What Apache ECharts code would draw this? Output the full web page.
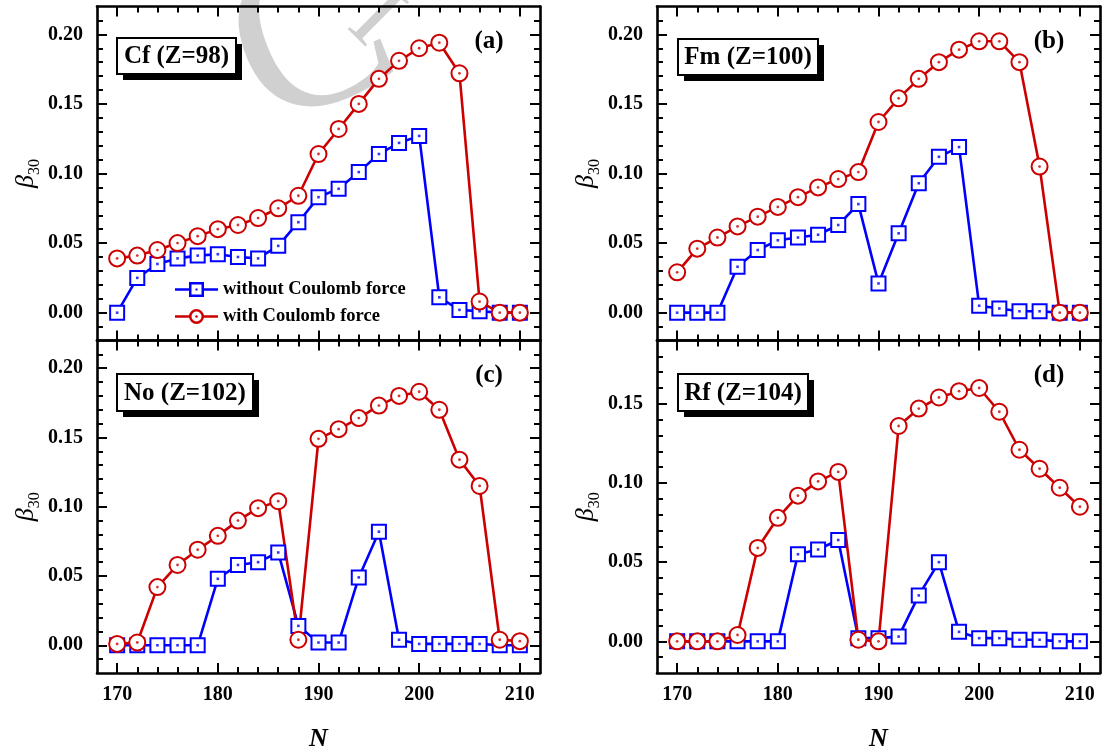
<!DOCTYPE html>
<html>
<head>
<meta charset="utf-8">
<script src="https://cdn.jsdelivr.net/npm/echarts@6/dist/echarts.min.js"></script>
<style>
  html, body { margin: 0; padding: 0; background: #ffffff; }
  #chart { width: 1106px; height: 753px; }
</style>
</head>
<body>
<div id="chart"></div>
<script>
// Neutron numbers N (x values shared by every panel)
const neutronNumbers = [170, 172, 174, 176, 178, 180, 182, 184, 186, 188, 190,
                        192, 194, 196, 198, 200, 202, 204, 206, 208, 210];

// Octupole deformation beta_30, without / with the Coulomb force
const cfWithout = [0.000, 0.025, 0.035, 0.039, 0.041, 0.042, 0.040, 0.039, 0.048, 0.065, 0.083,
                   0.089, 0.101, 0.114, 0.122, 0.127, 0.011, 0.002, 0.001, 0.000, 0.000];
const cfWith    = [0.039, 0.041, 0.045, 0.050, 0.055, 0.060, 0.063, 0.068, 0.075, 0.084, 0.114,
                   0.132, 0.150, 0.168, 0.181, 0.190, 0.194, 0.172, 0.008, 0.000, 0.000];

const fmWithout = [0.000, 0.000, 0.000, 0.033, 0.045, 0.052, 0.054, 0.056, 0.063, 0.078, 0.021,
                   0.057, 0.093, 0.112, 0.119, 0.005, 0.003, 0.001, 0.001, 0.000, 0.000];
const fmWith    = [0.029, 0.046, 0.054, 0.062, 0.069, 0.076, 0.083, 0.090, 0.096, 0.101, 0.137,
                   0.154, 0.168, 0.180, 0.189, 0.195, 0.195, 0.180, 0.105, 0.000, 0.000];

const noWithout = [0.000, 0.000, 0.000, 0.000, 0.000, 0.048, 0.058, 0.060, 0.067, 0.014, 0.002,
                   0.002, 0.049, 0.082, 0.004, 0.001, 0.001, 0.001, 0.001, 0.000, 0.000];
const noWith    = [0.001, 0.002, 0.042, 0.058, 0.069, 0.079, 0.090, 0.099, 0.104, 0.004, 0.149,
                   0.156, 0.164, 0.173, 0.180, 0.183, 0.170, 0.134, 0.115, 0.004, 0.003];

const rfWithout = [0.000, 0.000, 0.000, 0.000, 0.000, 0.000, 0.055, 0.058, 0.064, 0.002, 0.002,
                   0.003, 0.029, 0.050, 0.006, 0.002, 0.002, 0.001, 0.001, 0.000, 0.000];
const rfWith    = [0.000, 0.000, 0.000, 0.004, 0.059, 0.078, 0.092, 0.101, 0.107, 0.001, 0.000,
                   0.136, 0.147, 0.154, 0.158, 0.160, 0.145, 0.121, 0.109, 0.097, 0.085];

// Panel names and nucleus labels
const panelTags = ['(a)', '(b)', '(c)', '(d)'];
const nucleusLabels = ['Cf (Z=98)', 'Fm (Z=100)', 'No (Z=102)', 'Rf (Z=104)'];
const seriesNames = ['without Coulomb force', 'with Coulomb force'];

// Tick values
const xMajorTicks = [170, 180, 190, 200, 210];
const xMinorTicks = [172, 174, 176, 178, 182, 184, 186, 188, 192, 194, 196, 198, 202, 204, 206, 208];
const yMajorTicksWide = [0.00, 0.05, 0.10, 0.15, 0.20];
const yMinorTicksWide = [-0.01, 0.01, 0.02, 0.03, 0.04, 0.06, 0.07, 0.08, 0.09, 0.11, 0.12, 0.13, 0.14,
                         0.16, 0.17, 0.18, 0.19, 0.21];
const yMajorTicksRf = [0.00, 0.05, 0.10, 0.15];
const yMinorTicksRf = [-0.01, 0.01, 0.02, 0.03, 0.04, 0.06, 0.07, 0.08, 0.09, 0.11, 0.12, 0.13, 0.14,
                       0.16, 0.17, 0.18];

const BLUE = '#0000ff';
const RED = '#cc0000';
const FONT = '"Liberation Serif", "Times New Roman", serif';

const panels = [
  { without: cfWithout, with: cfWith, yMin: -0.02, yMax: 0.22, major: yMajorTicksWide, minor: yMinorTicksWide,
    grid: { left: 97, top: 6.5, width: 443, height: 334 }, bottomRow: false },
  { without: fmWithout, with: fmWith, yMin: -0.02, yMax: 0.22, major: yMajorTicksWide, minor: yMinorTicksWide,
    grid: { left: 657, top: 6.5, width: 443, height: 334 }, bottomRow: false },
  { without: noWithout, with: noWith, yMin: -0.02, yMax: 0.22, major: yMajorTicksWide, minor: yMinorTicksWide,
    grid: { left: 97, top: 340.5, width: 443, height: 334 }, bottomRow: true },
  { without: rfWithout, with: rfWith, yMin: -0.02, yMax: 0.19, major: yMajorTicksRf, minor: yMinorTicksRf,
    grid: { left: 657, top: 340.5, width: 443, height: 334 }, bottomRow: true }
];

const grid = [];
const xAxis = [];
const yAxis = [];
const series = [];
const graphic = [];

const labelStyle = { fontFamily: FONT, fontWeight: 'bold', fontSize: 20, color: '#000' };

function makeAxis(kind, gi, position, ticks, tickLen, showLine, showLabels, extra) {
  const ax = {
    type: 'value',
    gridIndex: gi,
    position: position,
    min: kind === 'x' ? 168 : panels[gi].yMin,
    max: kind === 'x' ? 212 : panels[gi].yMax,
    axisLine: { show: showLine, onZero: false, lineStyle: { color: '#000', width: 2.6 } },
    axisTick: { show: true, inside: true, length: tickLen, customValues: ticks,
                lineStyle: { color: '#000', width: 2 } },
    axisLabel: showLabels
      ? Object.assign({ show: true, customValues: ticks }, labelStyle,
          kind === 'x' ? { margin: 12 } : { margin: 14, formatter: v => v.toFixed(2) })
      : { show: false },
    splitLine: { show: false },
    minorTick: { show: false }
  };
  return Object.assign(ax, extra || {});
}

panels.forEach((p, gi) => {
  grid.push(p.grid);

  const xMain = xAxis.length;
  xAxis.push(makeAxis('x', gi, 'bottom', xMajorTicks, 10, true, p.bottomRow,
    p.bottomRow ? {
      name: 'N', nameLocation: 'middle', nameGap: 53,
      nameTextStyle: { fontFamily: FONT, fontStyle: 'italic', fontWeight: 'bold', fontSize: 26, color: '#000' }
    } : {}));
  xAxis.push(makeAxis('x', gi, 'bottom', xMinorTicks, 6, false, false));
  xAxis.push(makeAxis('x', gi, 'top', xMajorTicks, 10, true, false));
  xAxis.push(makeAxis('x', gi, 'top', xMinorTicks, 6, false, false));

  const yMain = yAxis.length;
  yAxis.push(makeAxis('y', gi, 'left', p.major, 10, true, true, {
    name: '{b|β}{s|30}', nameLocation: 'middle', nameGap: 54, nameRotate: 90,
    nameTextStyle: {
      rich: {
        b: { fontFamily: FONT, fontStyle: 'italic', fontSize: 26, color: '#000', padding: [0, 0, 4, 0], verticalAlign: 'bottom' },
        s: { fontFamily: FONT, fontSize: 16, color: '#000', verticalAlign: 'bottom' }
      }
    }
  }));
  yAxis.push(makeAxis('y', gi, 'left', p.minor, 6, false, false));
  yAxis.push(makeAxis('y', gi, 'right', p.major, 10, true, false));
  yAxis.push(makeAxis('y', gi, 'right', p.minor, 6, false, false));

  const pairs = arr => neutronNumbers.map((n, i) => [n, arr[i]]);

  // without Coulomb force: blue open squares
  series.push({
    type: 'line', name: seriesNames[0], xAxisIndex: xMain, yAxisIndex: yMain,
    data: pairs(p.without), symbol: 'emptyRect', symbolSize: 14,
    lineStyle: { color: BLUE, width: 2.6 },
    itemStyle: { color: BLUE, borderColor: BLUE, borderWidth: 2.6 },
    z: 2
  });
  series.push({
    type: 'scatter', xAxisIndex: xMain, yAxisIndex: yMain,
    data: pairs(p.without), symbol: 'rect', symbolSize: 2.6,
    itemStyle: { color: BLUE }, silent: true, z: 2
  });
  // with Coulomb force: red open circles
  series.push({
    type: 'line', name: seriesNames[1], xAxisIndex: xMain, yAxisIndex: yMain,
    data: pairs(p.with), symbol: 'emptyCircle', symbolSize: 16,
    lineStyle: { color: RED, width: 2.6 },
    itemStyle: { color: RED, borderColor: RED, borderWidth: 2.6 },
    z: 2
  });
  series.push({
    type: 'scatter', xAxisIndex: xMain, yAxisIndex: yMain,
    data: pairs(p.with), symbol: 'circle', symbolSize: 2.8,
    itemStyle: { color: RED }, silent: true, z: 2
  });

  // panel tag, top right
  graphic.push({
    type: 'text', x: p.grid.left + 392, y: p.grid.top + 35.5, z: 20,
    style: { text: panelTags[gi], font: 'bold 25px ' + FONT, fill: '#000', align: 'center', verticalAlign: 'middle' }
  });
});

// nucleus label boxes with a hard drop shadow
const boxSpecs = [
  { x: 117, y: 38, w: 119, h: 36 },
  { x: 678, y: 39, w: 140, h: 36 },
  { x: 117, y: 374, w: 136, h: 37 },
  { x: 678, y: 374, w: 130, h: 37 }
];
boxSpecs.forEach((b, i) => {
  graphic.push({ type: 'rect', z: 20, shape: { x: b.x + 6, y: b.y + 6, width: b.w, height: b.h },
                 style: { fill: '#000' } });
  graphic.push({ type: 'rect', z: 21, shape: { x: b.x, y: b.y, width: b.w, height: b.h },
                 style: { fill: '#fff', stroke: '#000', lineWidth: 2 } });
  graphic.push({ type: 'text', z: 22, x: b.x + b.w / 2, y: b.y + b.h / 2 + 1,
                 style: { text: nucleusLabels[i], font: 'bold 25px ' + FONT, fill: '#000',
                          align: 'center', verticalAlign: 'middle' } });
});

// faint publisher watermark behind panel (a)
graphic.push({
  type: 'text', x: 314, y: 45, rotation: 0.4, z: -1,
  style: { text: 'C', font: 'normal 228px ' + FONT, fill: '#d0d0d0', align: 'center', verticalAlign: 'middle' }
});
graphic.push({
  type: 'text', x: 374, y: 20, rotation: -0.78, z: -1,
  style: { text: 'I', font: 'normal 95px ' + FONT, fill: '#d0d0d0', align: 'center', verticalAlign: 'middle' }
});

// legend markers: line + open marker + centre dot
const squareIcon = 'path://M0,6.25H14V8.75H0Z M29,6.25H43V8.75H29Z M14,0H29V15H14Z M16.5,2.5V12.5H26.5V2.5Z M20.5,6.5H22.5V8.5H20.5Z';
const circleIcon = 'path://M0,6.25H14.2V8.75H0Z M28.8,6.25H43V8.75H28.8Z M14,7.5A7.5,7.5 0 1 1 29,7.5A7.5,7.5 0 1 1 14,7.5Z M16.5,7.5A5,5 0 1 0 26.5,7.5A5,5 0 1 0 16.5,7.5Z M20.2,7.5A1.3,1.3 0 1 1 22.8,7.5A1.3,1.3 0 1 1 20.2,7.5Z';

const chart = echarts.init(document.getElementById('chart'), null, { renderer: 'canvas' });
chart.setOption({
  animation: false,
  backgroundColor: '#ffffff',
  grid: grid,
  xAxis: xAxis,
  yAxis: yAxis,
  series: series,
  graphic: graphic,
  legend: {
    data: [{ name: seriesNames[0], icon: squareIcon }, { name: seriesNames[1], icon: circleIcon }],
    orient: 'vertical', left: 175, top: 280, padding: 0,
    itemWidth: 43, itemHeight: 15, itemGap: 8,
    itemStyle: { borderWidth: 0 },
    selectedMode: false,
    textStyle: { fontFamily: FONT, fontWeight: 'bold', fontSize: 18.5, color: '#000' }
  }
});
</script>
</body>
</html>
